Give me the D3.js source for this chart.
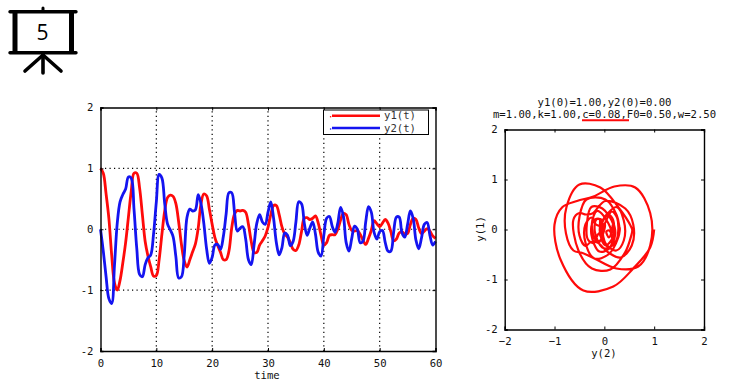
<!DOCTYPE html>
<html>
<head>
<meta charset="utf-8">
<script src="https://d3js.org/d3.v7.min.js"></script>
<style>
  html, body { margin: 0; padding: 0; background: #fff; }
  svg { display: block; }
  text { font-family: "DejaVu Sans Mono", monospace; font-size: 10.6px; fill: #111; }
</style>
</head>
<body>
<svg width="744" height="384"></svg>
<script>
const times = d3.range(0, 121).map(i => i / 2);

const y1Values = [
  1.00, .92, .58, .18, -.42, -.88, -1.00, -.84, -.55, -.22, .20, .62, .92, .92, .68, .24, -.20, -.44, -.62, -.77,
  -.76, -.50, -.08, .30, .52, .56, .54, .42, .12, -.25, -.52, -.62, -.50, -.37, -.24, .02, .42, .58, .55, .33,
  .08, -.14, -.27, -.38, -.50, -.50, -.36, .02, .25, .31, .30, .31, .28, .08, -.20, -.38, -.38, -.26, -.19, -.11,
  .03, .24, .39, .39, .24, .04, -.08, -.13, -.22, -.33, -.35, -.26, -.04, .18, .19, .16, .18, .22, .10, -.10,
  -.26, -.22, -.10, -.09, -.09, .00, .15, .26, .24, .08, -.02, -.03, -.02, -.08, -.18, -.25, -.15, -.02, .14, .09,
  .04, .10, .16, .10, -.04, -.19, -.16, -.06, -.04, -.08, -.07, .08, .18, .16, .02, -.07, -.03, .01, -.03, -.11,
  -.15
];

const y2Values = [
  .00, -.36, -.78, -1.14, -1.22, -.60, .10, .45, .57, .66, .86, .84, .33, -.32, -.74, -.78, -.58, -.47, -.42, -.08,
  .45, .90, .84, .42, .09, -.01, -.12, -.45, -.80, -.78, -.42, .20, .33, .30, .32, .57, .42, .10, -.32, -.56,
  -.46, -.26, -.25, -.33, -.12, .25, .60, .60, .28, -.03, .02, .04, -.16, -.50, -.58, -.26, .10, .24, .12, .08,
  .28, .45, .18, -.22, -.42, -.30, -.06, -.10, -.27, -.20, .12, .45, .42, .10, -.10, .02, .12, -.08, -.38, -.44,
  -.10, .18, .21, .05, -.05, .10, .36, .22, -.22, -.36, -.15, .05, .00, -.22, -.20, .12, .37, .28, -.05, -.16,
  -.04, -.02, -.22, -.36, -.36, -.05, .20, .20, -.06, -.13, .08, .30, .18, -.18, -.32, -.14, .08, .11, -.10, -.26,
  -.20
];

const timeTicks = [0, 10, 20, 30, 40, 50, 60];
const valueTicks = [-2, -1, 0, 1, 2];
const legendLabels = ["y1(t)", "y2(t)"];
const titleLines = ["y1(0)=1.00,y2(0)=0.00", "m=1.00,k=1.00,c=0.08,F0=0.50,w=2.50"];

const RED = "#ff0a0a";
const BLUE = "#1414f0";

const svg = d3.select("svg");

// slide icon in the corner
const drawIcon = () => {
  const icon = svg.append("g").attr("stroke", "#000").attr("stroke-linecap", "round").attr("fill", "none");
  const seg = (x1, y1, x2, y2, w) => icon.append("line")
    .attr("x1", x1).attr("y1", y1).attr("x2", x2).attr("y2", y2).attr("stroke-width", w);
  seg(43, 8, 43, 11, 3);
  seg(10, 11.7, 76, 11.7, 3.4);
  seg(10, 52.7, 76, 52.7, 3.4);
  seg(15, 12, 15, 52, 5).attr("stroke-linecap", "butt");
  seg(71.5, 12, 71.5, 52, 5).attr("stroke-linecap", "butt");
  seg(43, 55, 25, 71, 3.6);
  seg(43, 55, 61, 71, 3.6);
  seg(43, 55, 43, 73, 3.6);
  svg.append("text").attr("x", 42.5).attr("y", 40).attr("text-anchor", "middle")
    .style("font-family", "'Open Sans', sans-serif").style("font-size", "21px").style("fill", "#000").text("5");
};

// box with mirrored inward ticks, like the plot frame octave draws
const createAxes = (scaleX, scaleY, xTicks, yTicks) => {
  const [x0, x1] = scaleX.range();
  const [y0, y1] = scaleY.range();
  const axisB = d3.axisBottom(scaleX).tickValues(xTicks).tickSize(-3).tickPadding(8).tickFormat(d3.format("d"));
  const axisT = d3.axisTop(scaleX).tickValues(xTicks).tickSize(-3).tickFormat("");
  const axisL = d3.axisLeft(scaleY).tickValues(yTicks).tickSize(-3).tickPadding(7).tickFormat(d => String(d));
  const axisR = d3.axisRight(scaleY).tickValues(yTicks).tickSize(-3).tickFormat("");

  [[axisB, `translate(0,${y0})`], [axisT, `translate(0,${y1})`], [axisL, `translate(${x0},0)`], [axisR, `translate(${x1},0)`]]
    .forEach(([axis, tr]) => {
      const g = svg.append("g").attr("transform", tr).call(axis);
      g.selectAll("path").attr("stroke", "#000").attr("stroke-width", 1.4);
      g.selectAll("line").attr("stroke", "#000");
      g.attr("font-family", null).attr("font-size", null);
    });
};

const drawGrid = (scaleX, scaleY, xTicks, yTicks) => {
  const [x0, x1] = scaleX.range();
  const [y0, y1] = scaleY.range();
  const grid = svg.append("g").attr("stroke", "#000").attr("stroke-width", 1.2).attr("stroke-dasharray", "1.2 3.3");
  grid.selectAll(".gx").data(xTicks.slice(1, -1)).enter().append("line")
    .attr("x1", d => scaleX(d)).attr("x2", d => scaleX(d)).attr("y1", y0).attr("y2", y1);
  grid.selectAll(".gy").data(yTicks.slice(1, -1)).enter().append("line")
    .attr("y1", d => scaleY(d)).attr("y2", d => scaleY(d)).attr("x1", x0).attr("x2", x1);
};

const drawLegend = () => {
  svg.append("rect").attr("x", 323.5).attr("y", 110).attr("width", 105).attr("height", 24.5)
    .attr("fill", "#fff").attr("stroke", "#000").attr("stroke-width", 1);
  legendLabels.forEach((label, i) => {
    const yy = 115.7 + i * 12.3;
    const color = i === 0 ? RED : BLUE;
    svg.append("line").attr("x1", 332).attr("x2", 380).attr("y1", yy).attr("y2", yy)
      .attr("stroke", color).attr("stroke-width", 2.4);
    svg.append("circle").attr("cx", 330.6).attr("cy", yy + 1).attr("r", .8).attr("fill", color);
    svg.append("text").attr("x", 384).attr("y", yy + 3.6).style("fill", "#333").text(label);
  });
};

// left plot: both series against time
const scaleT = d3.scaleLinear().domain([0, 60]).range([100.5, 435.5]);
const scaleV = d3.scaleLinear().domain([-2, 2]).range([351, 107.5]);

drawGrid(scaleT, scaleV, timeTicks, valueTicks);

const timeLine = values => d3.line()
  .x((d, i) => scaleT(times[i]))
  .y(d => scaleV(d))
  .curve(d3.curveCatmullRom)(values);

svg.append("path").attr("d", timeLine(y1Values)).attr("fill", "none")
  .attr("stroke", RED).attr("stroke-width", 2.8);
svg.append("path").attr("d", timeLine(y2Values)).attr("fill", "none")
  .attr("stroke", BLUE).attr("stroke-width", 2.8);

createAxes(scaleT, scaleV, timeTicks, valueTicks);
drawLegend();

svg.append("text").attr("x", 267).attr("y", 379).attr("text-anchor", "middle").text("time");

// right plot: phase portrait from the same samples
const scaleX2 = d3.scaleLinear().domain([-2, 2]).range([504.7, 704]);
const scaleY2 = d3.scaleLinear().domain([-2, 2]).range([329.5, 129.5]);

const phaseLine = d3.line()
  .x((d, i) => scaleX2(y1Values[i]))
  .y((d, i) => scaleY2(y2Values[i]))
  .curve(d3.curveCatmullRom);

svg.append("path").attr("d", phaseLine(times)).attr("fill", "none")
  .attr("stroke", RED).attr("stroke-width", 2.2);

createAxes(scaleX2, scaleY2, valueTicks, valueTicks);

titleLines.forEach((line, i) => {
  svg.append("text").attr("x", 604.5).attr("y", 106 + i * 12).attr("text-anchor", "middle").text(line);
});
svg.append("line").attr("x1", 582).attr("x2", 629).attr("y1", 120.3).attr("y2", 120.3)
  .attr("stroke", RED).attr("stroke-width", 2);

svg.append("text").attr("x", 604).attr("y", 357).attr("text-anchor", "middle").text("y(2)");
svg.append("text").attr("transform", "translate(484,229) rotate(-90)").attr("text-anchor", "middle").text("y(1)");

drawIcon();
</script>
</body>
</html>
